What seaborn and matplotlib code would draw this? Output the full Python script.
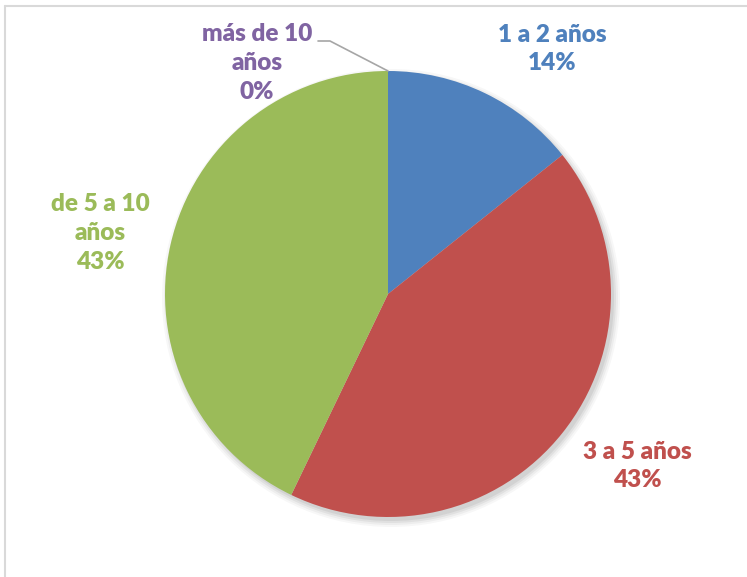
import matplotlib
matplotlib.use("Agg")
import matplotlib.pyplot as plt
import seaborn as sns
from matplotlib.patches import Circle
from matplotlib.lines import Line2D

categories = ["1 a 2 años", "3 a 5 años", "de 5 a 10 años", "más de 10 años"]
values = [1, 3, 3, 0]
label_lines = [["1 a 2 años"], ["3 a 5 años"], ["de 5 a 10", "años"], ["más de 10", "años"]]
colors = ["#4F81BD", "#C0504D", "#9BBB59", "#8064A2"]

sns.set_theme(style="white")
plt.rcParams["font.family"] = ["Lato", "DejaVu Sans"]

W, H = 747, 577
fig = plt.figure(figsize=(W / 100, H / 100), dpi=100)
ax = fig.add_axes([0, 0, 1, 1])
ax.set_xlim(0, W)
ax.set_ylim(0, H)
ax.set_aspect("equal")
ax.axis("off")

cx, cy, r = 388, H - 294, 223

# soft shadow
for i, a in enumerate([0.03, 0.04, 0.05, 0.06]):
    ax.add_patch(Circle((cx + 3, cy - 4), r + 6 - i * 2, color="black", alpha=a, lw=0, zorder=0))

pal = sns.color_palette(colors)
ax.pie(values, colors=pal, startangle=90, counterclock=False, center=(cx, cy), radius=r,
       wedgeprops=dict(linewidth=0), frame=True)
ax.set_xlim(0, W)
ax.set_ylim(0, H)
ax.axis("off")

total = sum(values)
pos = [(552, 49), (637, 466), (100, 233), (257, 63)]
for lines, v, c, (x, y) in zip(label_lines, values, colors, pos):
    txt = "\n".join(lines + [f"{round(v / total * 100)}%"])
    ax.text(x, H - y, txt, ha="center", va="center", color=c, fontsize=17.5,
            fontweight="heavy", linespacing=1.38)

# leader line for 0% slice
ax.add_line(Line2D([318, 330, 388], [H - 41, H - 41, H - 71], color="#A6A6A6", lw=1.2))

# chart border (cropped)
fig.add_artist(Line2D([5 / W, 1], [1 - 6 / H, 1 - 6 / H], transform=fig.transFigure, color="#D9D9D9", lw=1.5))
fig.add_artist(Line2D([5 / W, 5 / W], [0, 1 - 6 / H], transform=fig.transFigure, color="#D9D9D9", lw=1.5))

fig.savefig("out.png", dpi=100, facecolor="white")
